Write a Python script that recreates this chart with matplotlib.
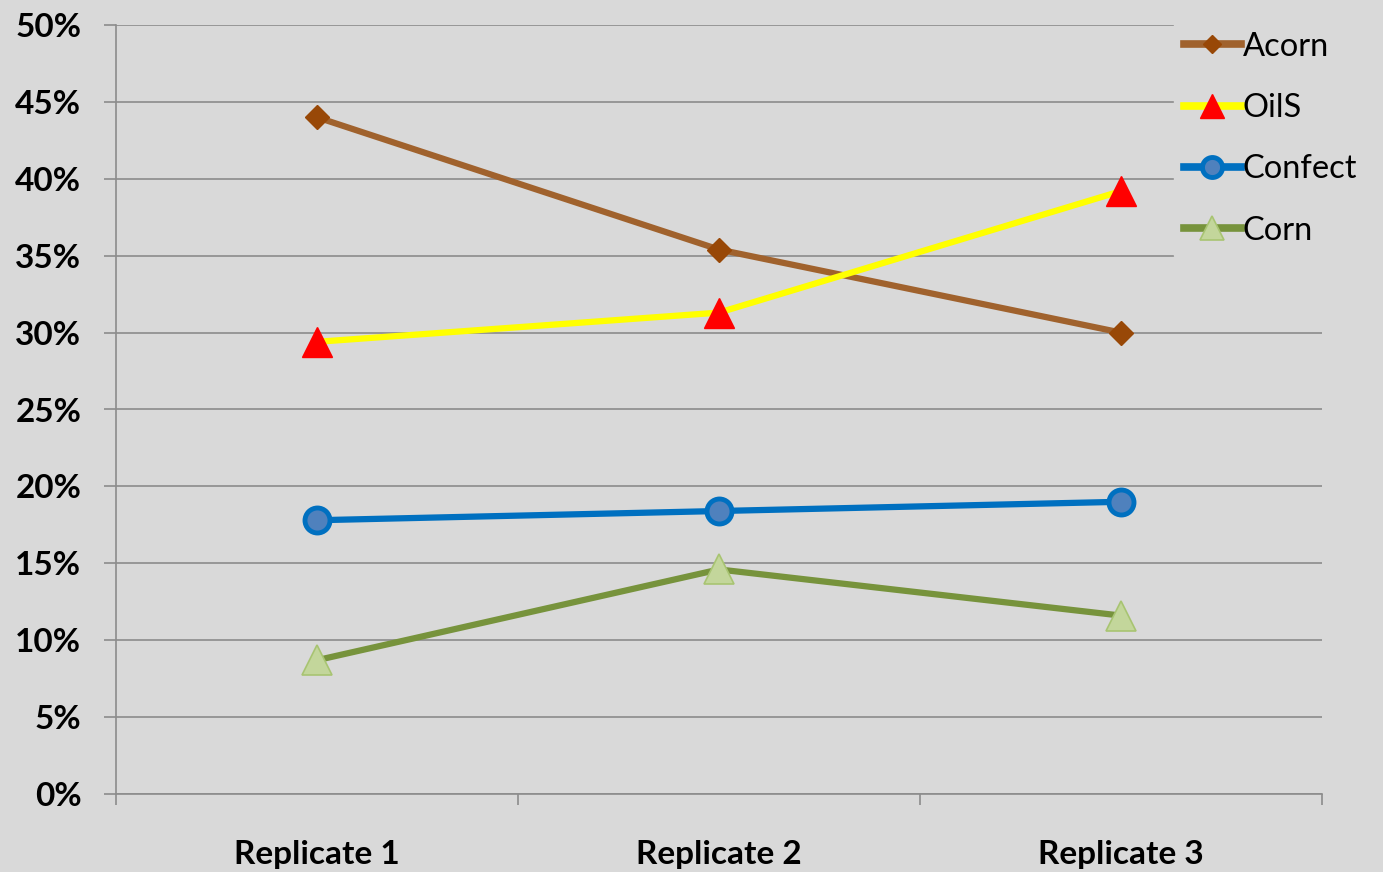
import matplotlib.pyplot as plt
from matplotlib.ticker import FixedLocator, PercentFormatter

# values (percent)
replicates = ["Replicate 1", "Replicate 2", "Replicate 3"]
acorn = [44.0, 35.4, 30.0]
oils = [29.4, 31.3, 39.2]
confect = [17.8, 18.4, 19.0]
corn = [8.7, 14.6, 11.6]
yticks = [0, 5, 10, 15, 20, 25, 30, 35, 40, 45, 50]

bg = "#d9d9d9"
grid = "#8c8c8c"

plt.rcParams['font.family'] = ['Lato', 'DejaVu Sans']

fig = plt.figure(figsize=(13.83, 8.72), dpi=100, facecolor=bg)
ax = fig.add_axes([116/1383, 1 - 794/872, (1322-116)/1383, (794-25)/872])
ax.set_facecolor(bg)

x = [1, 2, 3]
ax.plot(x, acorn, color="#a0622d", lw=4.5, marker="D", ms=12,
        mfc="#984807", mec="#984807", label="Acorn", zorder=3)
ax.plot(x, oils, color="#ffff00", lw=4.5, marker="^", ms=21,
        mfc="#ff0000", mec="#ff0000", label="OilS", zorder=3)
ax.plot(x, confect, color="#0070c0", lw=4.5, marker="o", ms=18, mew=3.5,
        mfc="#4f81bd", mec="#0070c0", label="Confect", zorder=3)
ax.plot(x, corn, color="#77933c", lw=4.5, marker="^", ms=21, mew=1.2,
        mfc="#c3d69b", mec="#a8c472", label="Corn", zorder=3)

ax.set_xlim(0.5, 3.5)
ax.set_ylim(0, 50)
ax.set_yticks(yticks)
ax.yaxis.set_major_formatter(PercentFormatter(decimals=0))
ax.yaxis.grid(True, color=grid, lw=1.2)
ax.set_axisbelow(True)

ax.set_xticks(x)
ax.set_xticklabels(replicates)
ax.xaxis.set_minor_locator(FixedLocator([0.5, 1.5, 2.5, 3.5]))
ax.tick_params(axis="x", which="major", length=0, pad=33)
ax.tick_params(axis="x", which="minor", length=8, width=1.2, color=grid, direction="out")
ax.tick_params(axis="y", length=9, width=1.2, color=grid, pad=16)
for lab in ax.get_xticklabels():
    lab.set_fontsize(24)
    lab.set_fontweight("bold")
for lab in ax.get_yticklabels():
    lab.set_fontsize(24)
    lab.set_fontweight("bold")

for s in ["top", "right"]:
    ax.spines[s].set_visible(False)
for s in ["left", "bottom"]:
    ax.spines[s].set_color(grid)
    ax.spines[s].set_linewidth(1.2)

leg = fig.legend(loc="upper left", bbox_to_anchor=(1174/1383, 1 - 22/872),
                 fontsize=23.5, frameon=True, facecolor=bg, edgecolor=bg,
                 framealpha=1, fancybox=False, handlelength=1.75,
                 handletextpad=0.05, labelspacing=0.96, borderpad=0.3,
                 borderaxespad=0)
for h in leg.legend_handles:
    h.set_markersize(h.get_markersize() * 0.8)
    h.set_linewidth(5.5)

fig.savefig("out.png", dpi=100, facecolor=bg)
